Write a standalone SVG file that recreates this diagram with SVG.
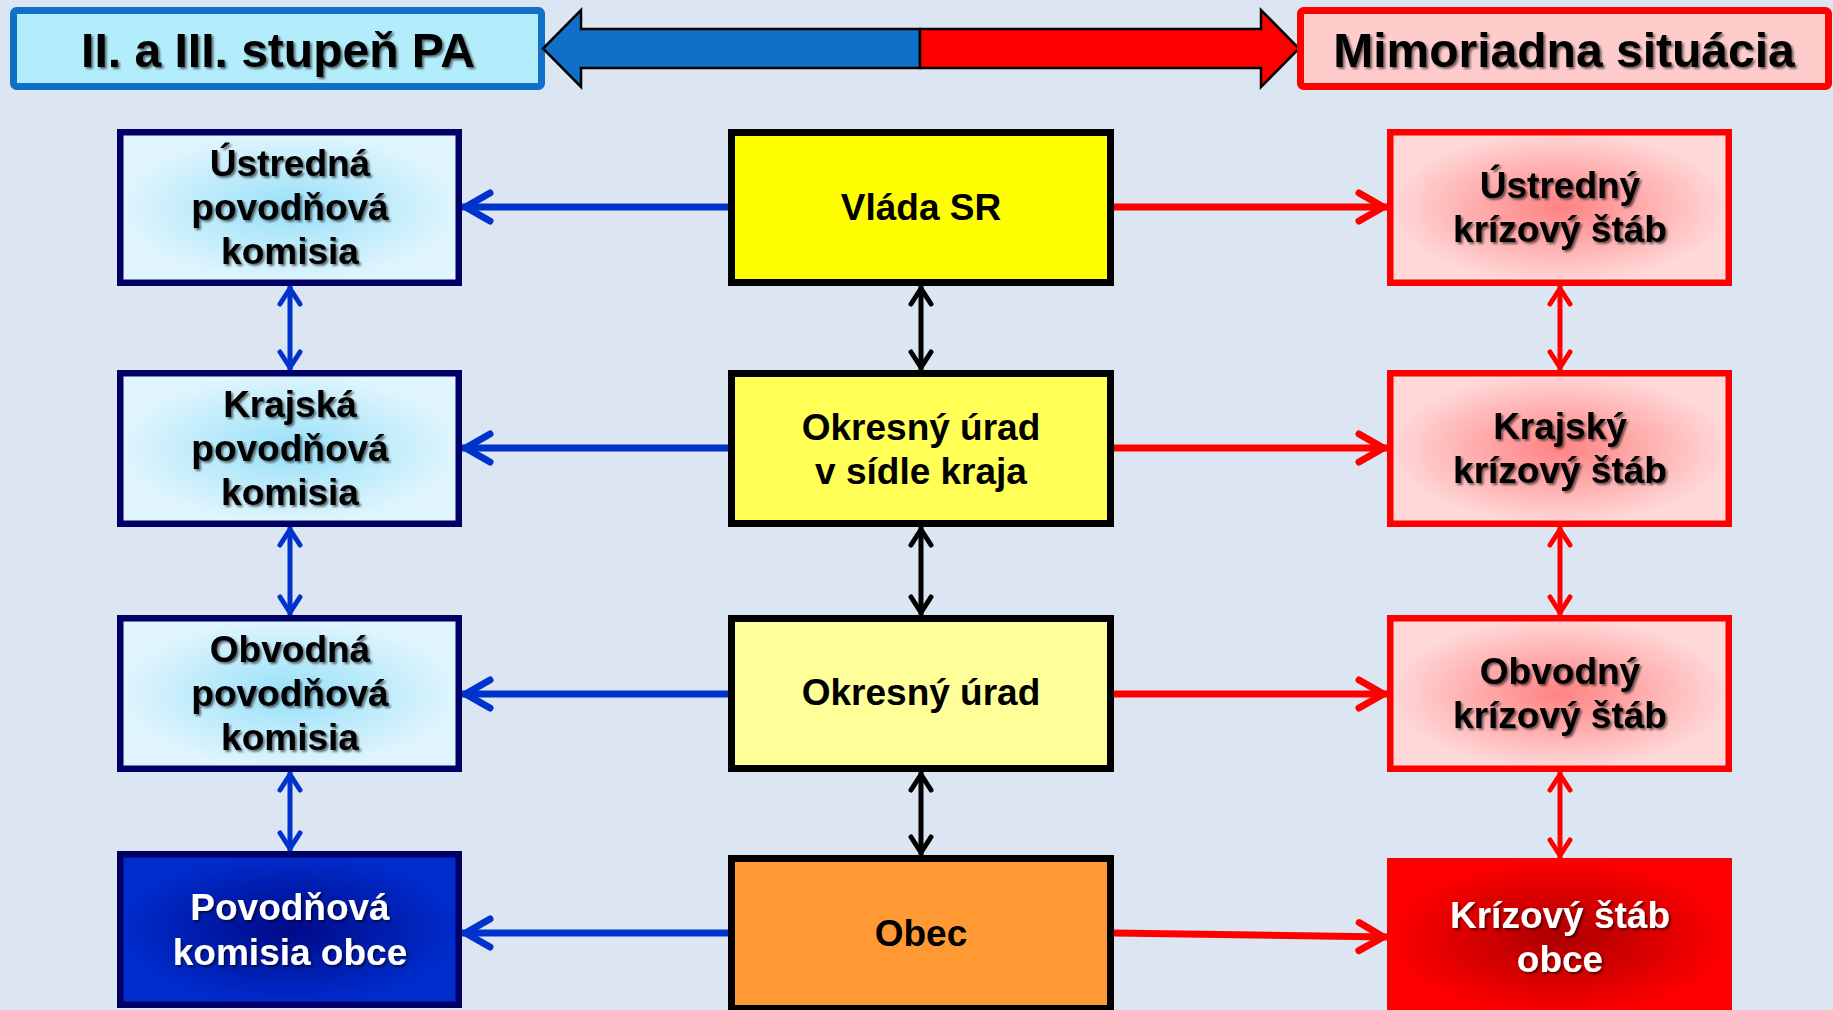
<svg xmlns="http://www.w3.org/2000/svg" width="1833" height="1010" viewBox="0 0 1833 1010">
<style>
.t{font-family:"Liberation Sans",Arial,sans-serif;font-weight:bold;font-size:37px;text-anchor:middle;fill:#000}
.h{font-size:48px}
.w{fill:#fff}
.sh{filter:url(#shd)}
.lb{stroke:#000066;stroke-width:6.5}
.rb{stroke:#ff0000;stroke-width:6.5}
.mb{stroke:#000;stroke-width:7}
.cb{fill:none;stroke:#0033cc;stroke-width:7}
.cr{fill:none;stroke:#ff0000;stroke-width:7}
.vb{fill:none;stroke:#0033cc;stroke-width:5}
.vr{fill:none;stroke:#ff0000;stroke-width:5}
.vk{fill:none;stroke:#000;stroke-width:5}
</style>
<defs>
<filter id="shd" x="-10%" y="-20%" width="120%" height="150%">
<feDropShadow dx="2" dy="2" stdDeviation="1.2" flood-color="#000" flood-opacity="0.55"/>
</filter>
<radialGradient id="gC"><stop offset="0" stop-color="#98e0f8"/><stop offset="1" stop-color="#e0f5fd"/></radialGradient>
<radialGradient id="gP"><stop offset="0" stop-color="#ff8282"/><stop offset="1" stop-color="#ffd8d8"/></radialGradient>
<radialGradient id="gB"><stop offset="0" stop-color="#000a88"/><stop offset="1" stop-color="#002ccc"/></radialGradient>
<radialGradient id="gR"><stop offset="0" stop-color="#ac0000"/><stop offset="1" stop-color="#ff0000"/></radialGradient>
<marker id="hB" markerUnits="userSpaceOnUse" viewBox="-40 -20 44 40" markerWidth="44" markerHeight="40" refX="0" refY="0" orient="auto-start-reverse">
<path d="M-28,-14 L-3.5,0 L-28,14" fill="none" stroke="#0033cc" stroke-width="7" stroke-linecap="round" stroke-linejoin="round"/></marker>
<marker id="hR" markerUnits="userSpaceOnUse" viewBox="-40 -20 44 40" markerWidth="44" markerHeight="40" refX="0" refY="0" orient="auto-start-reverse">
<path d="M-28,-14 L-3.5,0 L-28,14" fill="none" stroke="#ff0000" stroke-width="7" stroke-linecap="round" stroke-linejoin="round"/></marker>
<marker id="vB" markerUnits="userSpaceOnUse" viewBox="-30 -16 34 32" markerWidth="34" markerHeight="32" refX="0" refY="0" orient="auto-start-reverse">
<path d="M-18,-10 L-2.5,0 L-18,10" fill="none" stroke="#0033cc" stroke-width="5" stroke-linecap="round" stroke-linejoin="round"/></marker>
<marker id="vR" markerUnits="userSpaceOnUse" viewBox="-30 -16 34 32" markerWidth="34" markerHeight="32" refX="0" refY="0" orient="auto-start-reverse">
<path d="M-18,-10 L-2.5,0 L-18,10" fill="none" stroke="#ff0000" stroke-width="5" stroke-linecap="round" stroke-linejoin="round"/></marker>
<marker id="vK" markerUnits="userSpaceOnUse" viewBox="-30 -16 34 32" markerWidth="34" markerHeight="32" refX="0" refY="0" orient="auto-start-reverse">
<path d="M-18,-10 L-2.5,0 L-18,10" fill="none" stroke="#000" stroke-width="5" stroke-linecap="round" stroke-linejoin="round"/></marker>
</defs>
<rect width="1833" height="1010" fill="#dce6f2"/>

<g id="header-left">
<rect x="13.5" y="10.5" width="528" height="76" rx="3" fill="#b3ecfa" stroke="#1070c8" stroke-width="7"/>
<text class="t h sh" x="278" y="67">II. a III. stupeň PA</text>
</g>
<g id="header-arrow" stroke="#000" stroke-width="2.5" stroke-linejoin="miter">
<path d="M920,29 L581,29 L581,10 L543,48.5 L581,87 L581,68 L920,68 Z" fill="#1070c8"/>
<path d="M920,29 L1261,29 L1261,10 L1299,48.5 L1261,87 L1261,68 L920,68 Z" fill="#ff0000"/>
</g>
<g id="header-right">
<rect x="1300.5" y="10.5" width="528" height="76" rx="3" fill="#ffcccc" stroke="#ff0000" stroke-width="7"/>
<text class="t h sh" x="1564" y="67">Mimoriadna situácia</text>
</g>

<g id="connectors">
<path class="cb" d="M728,207 L462,207" marker-end="url(#hB)"/>
<path class="cb" d="M728,448 L462,448" marker-end="url(#hB)"/>
<path class="cb" d="M728,694 L462,694" marker-end="url(#hB)"/>
<path class="cb" d="M728,933 L462,933" marker-end="url(#hB)"/>
<path class="cr" d="M1114,207 L1387,207" marker-end="url(#hR)"/>
<path class="cr" d="M1114,448 L1387,448" marker-end="url(#hR)"/>
<path class="cr" d="M1114,694 L1387,694" marker-end="url(#hR)"/>
<path class="cr" d="M1114,933 L1387,937" marker-end="url(#hR)"/>
<path class="vb" d="M290,286 L290,370" marker-start="url(#vB)" marker-end="url(#vB)"/>
<path class="vb" d="M290,527 L290,615" marker-start="url(#vB)" marker-end="url(#vB)"/>
<path class="vb" d="M290,772 L290,851" marker-start="url(#vB)" marker-end="url(#vB)"/>
<path class="vk" d="M921,286 L921,370" marker-start="url(#vK)" marker-end="url(#vK)"/>
<path class="vk" d="M921,527 L921,615" marker-start="url(#vK)" marker-end="url(#vK)"/>
<path class="vk" d="M921,772 L921,855" marker-start="url(#vK)" marker-end="url(#vK)"/>
<path class="vr" d="M1560,286 L1560,370" marker-start="url(#vR)" marker-end="url(#vR)"/>
<path class="vr" d="M1560,527 L1560,615" marker-start="url(#vR)" marker-end="url(#vR)"/>
<path class="vr" d="M1560,772 L1560,858" marker-start="url(#vR)" marker-end="url(#vR)"/>
</g>

<g id="ustredna-povodnova-komisia">
<rect class="lb" x="120.25" y="132.25" width="338.5" height="150.5" fill="url(#gC)"/>
<text class="t sh" x="290" y="176">Ústredná</text>
<text class="t sh" x="290" y="220">povodňová</text>
<text class="t sh" x="290" y="264">komisia</text>
</g>
<g id="krajska-povodnova-komisia">
<rect class="lb" x="120.25" y="373.25" width="338.5" height="150.5" fill="url(#gC)"/>
<text class="t sh" x="290" y="417">Krajská</text>
<text class="t sh" x="290" y="461">povodňová</text>
<text class="t sh" x="290" y="505">komisia</text>
</g>
<g id="obvodna-povodnova-komisia">
<rect class="lb" x="120.25" y="618.25" width="338.5" height="150.5" fill="url(#gC)"/>
<text class="t sh" x="290" y="662">Obvodná</text>
<text class="t sh" x="290" y="706">povodňová</text>
<text class="t sh" x="290" y="750">komisia</text>
</g>
<g id="povodnova-komisia-obce">
<rect class="lb" x="120.25" y="854.25" width="338.5" height="150.5" fill="url(#gB)"/>
<text class="t w sh" x="290" y="920">Povodňová</text>
<text class="t w sh" x="290" y="965">komisia obce</text>
</g>

<g id="vlada-sr">
<rect class="mb" x="731.5" y="132.5" width="379" height="150" fill="#ffff00"/>
<text class="t" x="921" y="220">Vláda SR</text>
</g>
<g id="okresny-urad-kraj">
<rect class="mb" x="731.5" y="373.5" width="379" height="150" fill="#ffff55"/>
<text class="t" x="921" y="440">Okresný úrad</text>
<text class="t" x="921" y="484">v sídle kraja</text>
</g>
<g id="okresny-urad">
<rect class="mb" x="731.5" y="618.5" width="379" height="150" fill="#ffff99"/>
<text class="t" x="921" y="705">Okresný úrad</text>
</g>
<g id="obec">
<rect class="mb" x="731.5" y="858.5" width="379" height="150" fill="#ff9933"/>
<text class="t" x="921" y="946">Obec</text>
</g>

<g id="ustredny-krizovy-stab">
<rect class="rb" x="1390.25" y="132.25" width="338.5" height="150.5" fill="url(#gP)"/>
<text class="t sh" x="1560" y="198">Ústredný</text>
<text class="t sh" x="1560" y="242">krízový štáb</text>
</g>
<g id="krajsky-krizovy-stab">
<rect class="rb" x="1390.25" y="373.25" width="338.5" height="150.5" fill="url(#gP)"/>
<text class="t sh" x="1560" y="439">Krajský</text>
<text class="t sh" x="1560" y="483">krízový štáb</text>
</g>
<g id="obvodny-krizovy-stab">
<rect class="rb" x="1390.25" y="618.25" width="338.5" height="150.5" fill="url(#gP)"/>
<text class="t sh" x="1560" y="684">Obvodný</text>
<text class="t sh" x="1560" y="728">krízový štáb</text>
</g>
<g id="krizovy-stab-obce">
<rect x="1387" y="858" width="345" height="160" fill="url(#gR)"/>
<text class="t w sh" x="1560" y="928">Krízový štáb</text>
<text class="t w sh" x="1560" y="972">obce</text>
</g>
</svg>
